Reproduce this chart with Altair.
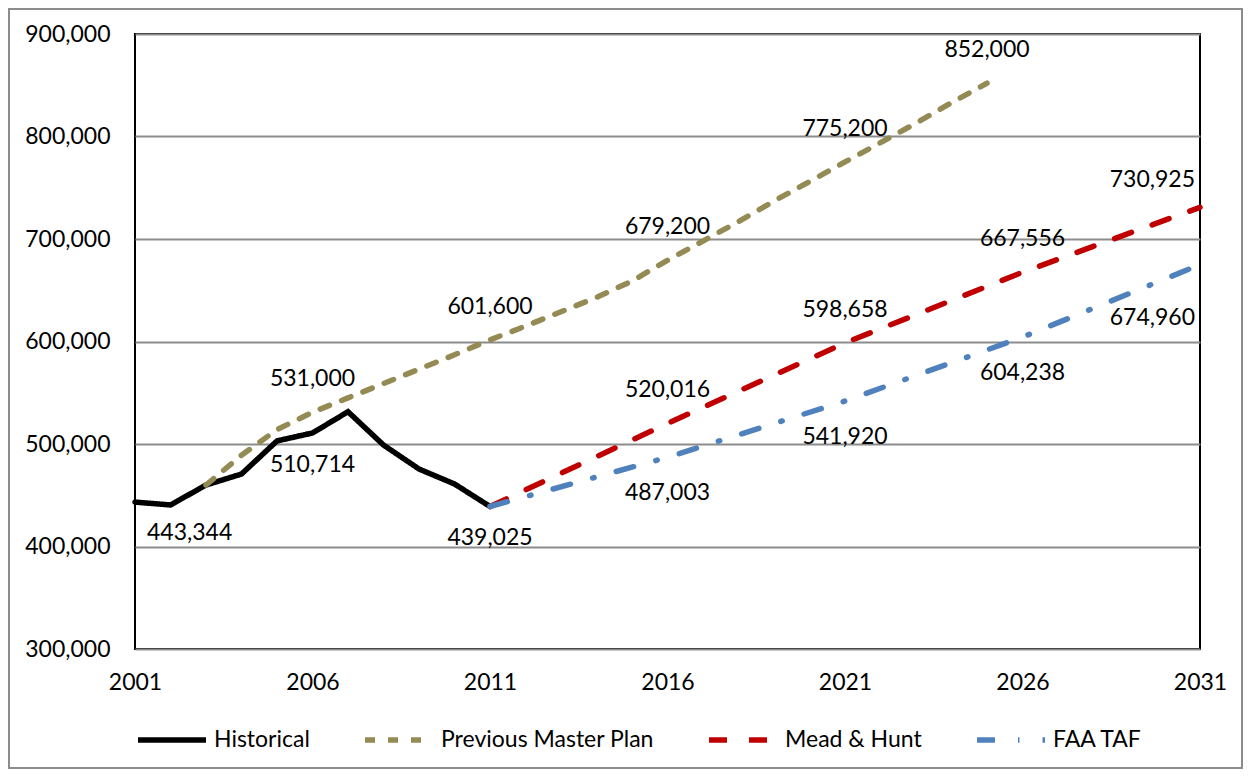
import altair as alt
import pandas as pd

# ---- data ----
series_names = ["Historical", "Previous Master Plan", "Mead & Hunt", "FAA TAF"]
series_colors = ["#000000", "#948A54", "#C00000", "#4F81BD"]

hist_years = list(range(2001, 2012))
hist_values = [443344, 440500, 460000, 470700, 503000, 510714, 531500, 499000, 475600, 461000, 439025]

pmp_years = list(range(2003, 2026))
pmp_values = [460000, 489000, 514000, 531000, 545000, 559000, 573000, 587000, 601600,
              615000, 629000, 643000, 659000, 679200, 698000, 717000, 737000, 756000,
              775200, 794000, 813000, 833000, 852000]

mh_years = [2011, 2016, 2021, 2026, 2031]
mh_values = [439025, 520016, 598658, 667556, 730925]

faa_years = [2011, 2016, 2021, 2026, 2031]
faa_values = [439025, 487003, 541920, 604238, 674960]

hist_label_years = [2001, 2006, 2011]
pmp_label_years = [2006, 2011, 2016, 2021, 2025]
mh_label_years = [2016, 2021, 2026, 2031]
faa_label_years = [2016, 2021, 2026, 2031]

x_ticks = [2001, 2006, 2011, 2016, 2021, 2026, 2031]
y_ticks = [300000, 400000, 500000, 600000, 700000, 800000, 900000]

# ---- tables ----
def frame(name, years, values):
    return pd.DataFrame({"series": name, "year": years, "value": values})

df = pd.concat([
    frame("Historical", hist_years, hist_values),
    frame("Previous Master Plan", pmp_years, pmp_values),
    frame("Mead & Hunt", mh_years, mh_values),
    frame("FAA TAF", faa_years, faa_values),
], ignore_index=True)

def labels(name, yrs):
    return df[(df.series == name) & (df.year.isin(yrs))]

FONT = "Lato"
FS = 23

x_enc = alt.X("year:Q", scale=alt.Scale(domain=[2001, 2031], nice=False, zero=False),
              axis=alt.Axis(values=x_ticks, format="d", title=None, grid=False,
                            labelFlush=False, labelOverlap=False))
y_enc = alt.Y("value:Q", scale=alt.Scale(domain=[300000, 900000], nice=False, zero=False),
              axis=alt.Axis(values=y_ticks, format=",d", title=None, grid=True,
                            labelFlush=False, labelOverlap=False))

lines = alt.Chart(df).mark_line(strokeWidth=5.5, strokeCap="round").encode(
    x=x_enc,
    y=y_enc,
    color=alt.Color("series:N", scale=alt.Scale(domain=series_names, range=series_colors),
                    legend=alt.Legend(title=None)),
    strokeDash=alt.StrokeDash("series:N",
                              scale=alt.Scale(domain=series_names,
                                              range=[[1, 0], [10, 13], [18, 22], [18, 23, 1.5, 23]]),
                              legend=alt.Legend(title=None)),
    order=alt.Order("year:Q"),
)

def txt(d, dy, dx=0, align="center"):
    return alt.Chart(d).mark_text(dy=dy, dx=dx, align=align, baseline="middle",
                                  font=FONT, fontSize=FS, color="#000000").encode(
        x="year:Q", y="value:Q", text=alt.Text("value:Q", format=",d"))

hl = labels("Historical", hist_label_years)
pl = labels("Previous Master Plan", pmp_label_years)
ml = labels("Mead & Hunt", mh_label_years)
fl = labels("FAA TAF", faa_label_years)

text_layers = [
    txt(hl[hl.year == 2001], 31, dx=12, align="left"),
    txt(hl[hl.year != 2001], 32),
    txt(pl, -33),
    txt(ml[ml.year != 2031], -33),
    txt(ml[ml.year == 2031], -27, dx=-5, align="right"),
    txt(fl[fl.year != 2031], 36),
    txt(fl[fl.year == 2031], 53, dx=-5, align="right"),
]

border = alt.Chart(pd.DataFrame({"k": [0]})).mark_rect(
    fillOpacity=0, stroke="#8c8c8c", strokeWidth=2).encode(
    x=alt.value(-126), x2=alt.value(1107), y=alt.value(-25), y2=alt.value(734))

chart = alt.layer(border, lines, *text_layers).properties(
    width=1065, height=615,
    autosize=alt.AutoSizeParams(type="none"),
    padding={"left": 127, "top": 26, "right": 44, "bottom": 121},
).configure_view(
    stroke="#000000", strokeWidth=2
).configure_axis(
    domain=False, ticks=False, labelFont=FONT, labelFontSize=FS, labelColor="#000000",
    gridColor="#8c8c8c", gridWidth=2,
).configure_axisX(
    labelPadding=22,
).configure_axisY(
    labelPadding=25,
).configure_legend(
    orient="none", legendX=0, legendY=669, direction="horizontal", columns=4,
    symbolType="stroke", symbolSize=4624, symbolStrokeWidth=5.5, labelFont=FONT,
    labelFontSize=FS, labelColor="#000000", labelOffset=5, columnPadding=44, padding=0,
    labelLimit=0,
)

chart.save("out.html", embed_options={"renderer": "svg", "actions": False})
